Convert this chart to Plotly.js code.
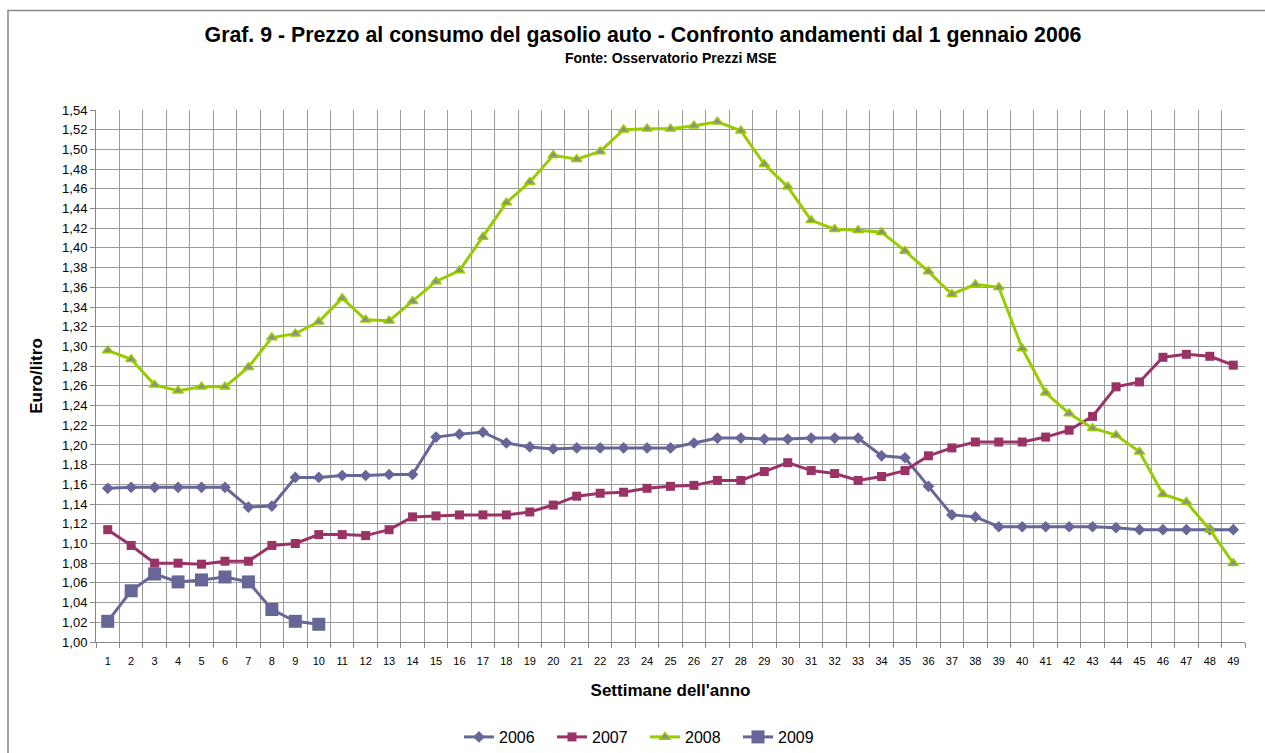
<!DOCTYPE html>
<html>
<head>
<meta charset="utf-8">
<script src="https://cdn.plot.ly/plotly-3.0.1.min.js"></script>
<style>html,body{margin:0;padding:0;background:#fff;}#chart{width:1265px;height:753px;}</style>
</head>
<body>
<div id="chart"></div>
<script>
var weeks = [];
for (var i = 1; i <= 49; i++) weeks.push(i);

var weeks2009 = [1,2,3,4,5,6,7,8,9,10];

var y2006 = [1.156,1.157,1.157,1.157,1.157,1.157,1.137,1.138,1.167,1.167,
             1.169,1.169,1.170,1.170,1.208,1.211,1.213,1.202,1.198,1.196,
             1.197,1.197,1.197,1.197,1.197,1.202,1.207,1.207,1.206,1.206,
             1.207,1.207,1.207,1.189,1.187,1.158,1.129,1.127,1.117,1.117,
             1.117,1.117,1.117,1.116,1.114,1.114,1.114,1.114,1.114];

var y2007 = [1.114,1.098,1.080,1.080,1.079,1.082,1.082,1.098,1.100,1.109,
             1.109,1.108,1.114,1.127,1.128,1.129,1.129,1.129,1.132,1.139,
             1.148,1.151,1.152,1.156,1.158,1.159,1.164,1.164,1.173,1.182,
             1.174,1.171,1.164,1.168,1.174,1.189,1.197,1.203,1.203,1.203,
             1.208,1.215,1.229,1.259,1.264,1.289,1.292,1.290,1.281];

var y2008 = [1.296,1.287,1.261,1.255,1.259,1.259,1.279,1.309,1.313,1.325,
             1.349,1.327,1.326,1.346,1.366,1.377,1.411,1.446,1.467,1.494,
             1.490,1.498,1.520,1.521,1.521,1.524,1.528,1.519,1.485,1.462,
             1.428,1.419,1.418,1.416,1.397,1.376,1.353,1.363,1.360,1.298,
             1.253,1.232,1.217,1.210,1.193,1.150,1.142,1.114,1.080];

var y2009 = [1.021,1.052,1.069,1.061,1.063,1.066,1.061,1.033,1.021,1.018];

var seriesNames = ['2006','2007','2008','2009'];

var traces = [
  {x: weeks, y: y2006, name: seriesNames[0], type: 'scatter', mode: 'lines+markers',
   line: {color: '#666699', width: 3},
   marker: {symbol: 'diamond', size: 9, color: '#666699'}},
  {x: weeks, y: y2007, name: seriesNames[1], type: 'scatter', mode: 'lines+markers',
   line: {color: '#993366', width: 3},
   marker: {symbol: 'square', size: 9, color: '#993366'}},
  {x: weeks, y: y2008, name: seriesNames[2], type: 'scatter', mode: 'lines+markers',
   line: {color: '#99CC00', width: 3},
   marker: {symbol: 'triangle-up', size: 9, color: '#8C8C8C', line: {color: '#99CC00', width: 1.5}}},
  {x: weeks2009, y: y2009, name: seriesNames[3], type: 'scatter', mode: 'lines+markers',
   line: {color: '#666699', width: 3},
   marker: {symbol: 'square', size: 13, color: '#666699'}}
];

var FONT = 'Liberation Sans, Arial, sans-serif';

var layout = {
  width: 1265, height: 753,
  paper_bgcolor: '#ffffff', plot_bgcolor: '#ffffff',
  separators: ', ',
  font: {family: FONT, color: '#000000'},
  margin: {l: 96, r: 20, t: 110, b: 111, pad: 0, autoexpand: false},
  title: {
    text: '<b>Graf. 9 - Prezzo al consumo del gasolio auto - Confronto andamenti dal 1 gennaio 2006</b>',
    font: {family: FONT, size: 21.3, color: '#000000'},
    x: 643/1265, xanchor: 'center', xref: 'container',
    y: 1 - 35/753, yref: 'container', yanchor: 'middle'
  },
  annotations: [{
    text: '<b>Fonte: Osservatorio Prezzi MSE</b>',
    xref: 'paper', yref: 'paper', x: 0.5, y: 1 + (110-58)/532,
    xanchor: 'center', yanchor: 'middle', showarrow: false,
    font: {family: FONT, size: 14, color: '#000000'}
  }],
  xaxis: {
    range: [0.5, 49.5],
    tickmode: 'array', tickvals: weeks, ticktext: weeks.map(String),
    ticks: 'outside', ticklen: 9, tickcolor: 'rgba(0,0,0,0)',
    showgrid: false, zeroline: false,
    showline: true, linecolor: '#888888', linewidth: 1,
    tickfont: {family: FONT, size: 11, color: '#000000'},
    minor: {tickmode: 'linear', tick0: 0.5, dtick: 1, ticks: 'outside', ticklen: 5,
            tickcolor: '#888888', showgrid: true, gridcolor: '#9a9a9a', gridwidth: 1},
    title: {text: '<b>Settimane dell\'anno</b>', font: {family: FONT, size: 17, color: '#000000'}, standoff: 17},
    automargin: false
  },
  yaxis: {
    range: [1.00, 1.54],
    tickmode: 'linear', tick0: 1.00, dtick: 0.02, tickformat: '.2f',
    ticks: 'outside', ticklen: 5, tickcolor: '#888888',
    showgrid: true, gridcolor: '#9a9a9a', gridwidth: 1, zeroline: false,
    showline: true, linecolor: '#888888', linewidth: 1,
    tickfont: {family: FONT, size: 13, color: '#000000'},
    title: {text: '<b>Euro/litro</b>', font: {family: FONT, size: 17, color: '#000000'}, standoff: 15},
    automargin: false
  },
  showlegend: true,
  legend: {
    orientation: 'h', x: (645-96)/1149, xanchor: 'center', y: (642-737)/532, yanchor: 'middle',
    entrywidth: 48, entrywidthmode: 'pixels',
    font: {family: FONT, size: 16, color: '#000000'}, bgcolor: 'rgba(0,0,0,0)'
  },
  shapes: [{
    type: 'rect', xref: 'paper', yref: 'paper',
    x0: (8-96)/1149, x1: (1280-96)/1149, y0: (642-770)/532, y1: 1 + (110-10.5)/532,
    line: {color: '#888888', width: 1.5}, fillcolor: 'rgba(0,0,0,0)', layer: 'below'
  }]
};

Plotly.newPlot('chart', traces, layout, {displayModeBar: false, responsive: false});
</script>
</body>
</html>
